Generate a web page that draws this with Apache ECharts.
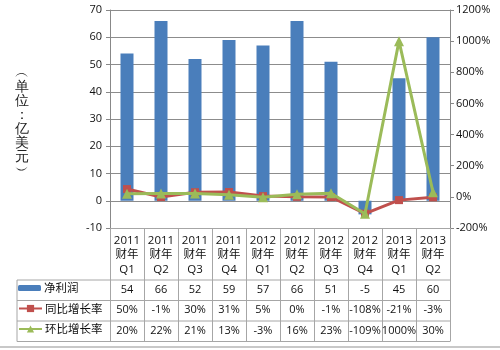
<!DOCTYPE html>
<html><head><meta charset="utf-8">
<script src="https://cdn.jsdelivr.net/npm/echarts@6/dist/echarts.min.js"></script>
<style>html,body{margin:0;padding:0;background:#fff}#c{width:500px;height:350px}</style>
</head><body><div id="c"></div>
<script>
var categories = ['2011\n财年\nQ1','2011\n财年\nQ2','2011\n财年\nQ3','2011\n财年\nQ4','2012\n财年\nQ1','2012\n财年\nQ2','2012\n财年\nQ3','2012\n财年\nQ4','2013\n财年\nQ1','2013\n财年\nQ2'];
var netProfit = [54, 66, 52, 59, 57, 66, 51, -5, 45, 60];
var yoyGrowth = [50, -1, 30, 31, 5, 0, -1, -108, -21, -3];
var qoqGrowth = [20, 22, 21, 13, -3, 16, 23, -109, 1000, 30];
var seriesNames = ['净利润', '同比增长率', '环比增长率'];
var leftTicks = {min: -10, max: 70, interval: 10};
var rightTicks = {min: -200, max: 1200, interval: 200};

var L = 110, R = 450, T = 10, B = 228;
var HEADER_H = 52, ROW_H = 20.5, TABLE_LEFT = 17;
var rowTop = [B + HEADER_H, B + HEADER_H + ROW_H, B + HEADER_H + 2 * ROW_H];
var tableBottom = B + HEADER_H + 3 * ROW_H;
var lineCol = '#a6a6a6';
var font = '"Open Sans", "Noto Sans CJK SC", sans-serif';
var colors = ['#4a7ebb', '#c0504d', '#9bbb59'];

var rowData = [
  netProfit.map(function (v) { return String(v); }),
  yoyGrowth.map(function (v) { return v + '%'; }),
  qoqGrowth.map(function (v) { return v + '%'; })
];

var xAxes = [{
  type: 'category', data: categories, gridIndex: 0, position: 'bottom',
  axisLine: {show: true, onZero: false, lineStyle: {color: lineCol, width: 1}},
  axisTick: {show: true, length: tableBottom - B, interval: 0, lineStyle: {color: lineCol}},
  axisLabel: {interval: 0, margin: 5, fontSize: 11.5, lineHeight: 14.5, color: '#111', fontFamily: font}
}];
rowData.forEach(function (d, i) {
  xAxes.push({
    type: 'category', data: d, gridIndex: 0, position: 'bottom',
    offset: rowTop[i] - B,
    axisLine: {show: false}, axisTick: {show: false},
    axisLabel: {interval: 0, margin: 4, fontSize: 11, color: '#111', fontFamily: font}
  });
});

var graphics = [];
rowTop.concat([tableBottom]).forEach(function (y) {
  graphics.push({type: 'line', shape: {x1: TABLE_LEFT, y1: y, x2: R, y2: y}, style: {stroke: lineCol, lineWidth: 1}, z: 10});
});
graphics.push({type: 'line', shape: {x1: TABLE_LEFT, y1: rowTop[0], x2: TABLE_LEFT, y2: tableBottom}, style: {stroke: lineCol, lineWidth: 1}, z: 10});
graphics.push({type: 'line', shape: {x1: 0, y1: 347, x2: 500, y2: 347}, style: {stroke: '#c8c8c8', lineWidth: 2}, z: 10});
graphics.push({type: 'text', x: 22, y: 122, style: {text: '︵\n单\n位\n：\n亿\n美\n元\n︶', fontSize: 14, lineHeight: 14, fill: '#222', align: 'center', verticalAlign: 'middle', font: '14px "Noto Sans CJK SC"'}});

var legends = seriesNames.map(function (n, i) {
  return {
    data: [n], left: 18, top: rowTop[i] + ROW_H / 2 - 8, orient: 'vertical',
    itemWidth: 23, itemHeight: i === 0 ? 6 : 9, itemGap: 0, padding: [0, 0, 0, 0],
    selectedMode: false,
    textStyle: {fontSize: 11.5, color: '#111', fontFamily: '"Noto Sans CJK SC", sans-serif', padding: [0, 0, 0, -2]}
  };
});

var chart = echarts.init(document.getElementById('c'), null, {renderer: 'canvas'});
chart.setOption({
  animation: false,
  color: colors,
  grid: {left: L, right: 500 - R, top: T, bottom: 350 - B, containLabel: false},
  legend: legends,
  graphic: graphics,
  xAxis: xAxes,
  yAxis: [{
    type: 'value', min: leftTicks.min, max: leftTicks.max, interval: leftTicks.interval,
    axisLine: {show: true, lineStyle: {color: '#888'}},
    axisTick: {show: true, length: 4, lineStyle: {color: '#888'}},
    splitLine: {show: true, lineStyle: {color: '#8c8c8c', width: 1}},
    axisLabel: {fontSize: 11, color: '#111', margin: 8, fontFamily: font}
  }, {
    type: 'value', min: rightTicks.min, max: rightTicks.max, interval: rightTicks.interval,
    position: 'right',
    axisLine: {show: true, lineStyle: {color: '#888'}},
    axisTick: {show: true, length: 4, lineStyle: {color: '#888'}},
    splitLine: {show: false},
    axisLabel: {fontSize: 11, color: '#111', margin: 6, fontFamily: font, formatter: function (v) { return v + '%'; }}
  }],
  series: [{
    name: seriesNames[0], type: 'bar', data: netProfit, xAxisIndex: 0, yAxisIndex: 0,
    barWidth: 13, itemStyle: {color: colors[0]}
  }, {
    name: seriesNames[1], type: 'line', data: yoyGrowth, xAxisIndex: 0, yAxisIndex: 1,
    symbol: 'rect', symbolSize: 8, lineStyle: {width: 3, color: colors[1]}, itemStyle: {color: colors[1]}, z: 3
  }, {
    name: seriesNames[2], type: 'line', data: qoqGrowth, xAxisIndex: 0, yAxisIndex: 1,
    symbol: 'triangle', symbolSize: 10, lineStyle: {width: 3, color: colors[2]}, itemStyle: {color: colors[2]}, z: 4
  }]
});
</script></body></html>
